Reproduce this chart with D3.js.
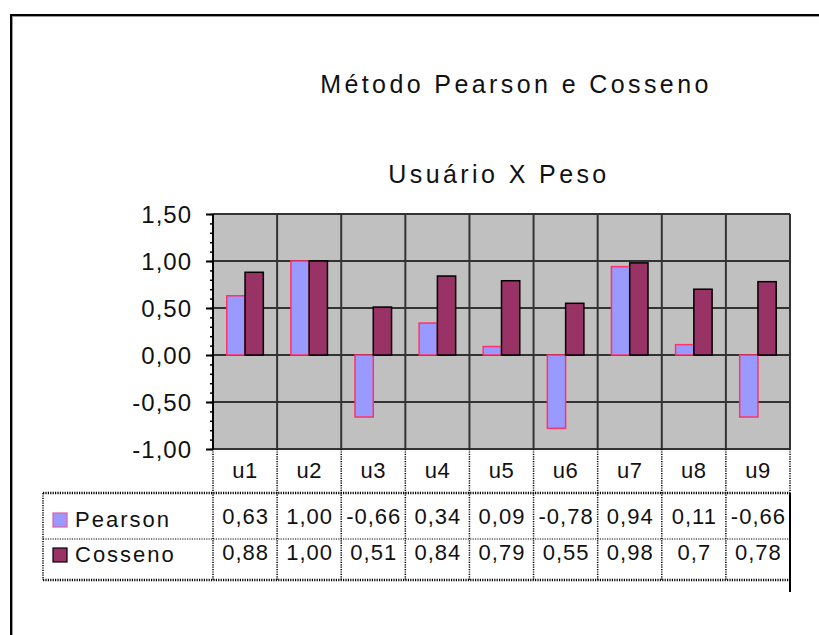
<!DOCTYPE html>
<html>
<head>
<meta charset="utf-8">
<script src="https://cdn.jsdelivr.net/npm/d3@7"></script>
<style>
  html, body { margin: 0; padding: 0; background: #fff; }
  svg { display: block; }
  text { font-family: "Liberation Sans", Arial, sans-serif; fill: #111; }
</style>
</head>
<body>
<svg id="chart" width="819" height="635"></svg>
<script>
// ---- data ----
const categories = ["u1", "u2", "u3", "u4", "u5", "u6", "u7", "u8", "u9"];
const seriesNames = ["Pearson", "Cosseno"];
const pearson = [0.63, 1.00, -0.66, 0.34, 0.09, -0.78, 0.94, 0.11, -0.66];
const cosseno = [0.88, 1.00, 0.51, 0.84, 0.79, 0.55, 0.98, 0.70, 0.78];
const pearsonLabels = ["0,63", "1,00", "-0,66", "0,34", "0,09", "-0,78", "0,94", "0,11", "-0,66"];
const cossenoLabels = ["0,88", "1,00", "0,51", "0,84", "0,79", "0,55", "0,98", "0,7", "0,78"];
const yTicks = [-1.0, -0.5, 0.0, 0.5, 1.0, 1.5];
const titleLines = ["Método Pearson e Cosseno", "Usuário X Peso"];

// ---- layout ----
const svg = d3.select("#chart");
const plot = { left: 213, right: 790, top: 214, bottom: 449 };
const table = { left: 43, row1: 493, row2: 539, bottom: 580 };
const colors = { Pearson: "#9999FF", Cosseno: "#993366" };
const strokes = { Pearson: "#FF3366", Cosseno: "#000000" };

// outer chart frame (extends past the window on right and bottom)
svg.append("rect").attr("x", 12).attr("y", 16).attr("width", 830).attr("height", 650)
  .attr("fill", "none").attr("stroke", "#999").attr("stroke-width", 2);
svg.append("rect").attr("x", 11).attr("y", 15).attr("width", 830).attr("height", 650)
  .attr("fill", "none").attr("stroke", "#000").attr("stroke-width", 2);

// title
svg.append("text").attr("x", 516).attr("y", 93).attr("text-anchor", "middle")
  .style("font-size", "25px").style("letter-spacing", "3.4px").text(titleLines[0]);
svg.append("text").attr("x", 499).attr("y", 183).attr("text-anchor", "middle")
  .style("font-size", "25px").style("letter-spacing", "3.4px").text(titleLines[1]);

// scales
const x = d3.scaleBand().domain(categories).range([plot.left, plot.right]).padding(0);
const y = d3.scaleLinear().domain([-1, 1.5]).range([plot.bottom, plot.top]);
const bw = x.bandwidth();
const x1 = d3.scaleBand().domain(seriesNames).range([bw * 0.215, bw * 0.785]).padding(0);

// plot background
svg.append("rect").attr("x", plot.left).attr("y", plot.top)
  .attr("width", plot.right - plot.left).attr("height", plot.bottom - plot.top)
  .attr("fill", "#C0C0C0");

// gridlines
const grid = svg.append("g").attr("stroke", "#333").attr("stroke-width", 2);
grid.selectAll("line.h").data(yTicks).join("line")
  .attr("x1", plot.left).attr("x2", plot.right)
  .attr("y1", d => y(d)).attr("y2", d => y(d));
grid.selectAll("line.v").data(categories.slice(1).concat(["end"])).join("line")
  .attr("x1", d => d === "end" ? plot.right : x(d)).attr("x2", d => d === "end" ? plot.right : x(d))
  .attr("y1", plot.top).attr("y2", plot.bottom);

// bars
const rows = categories.map((c, i) => ({ c, Pearson: pearson[i], Cosseno: cosseno[i] }));
const gBars = svg.append("g");
rows.forEach(r => {
  seriesNames.forEach(s => {
    const v = r[s];
    gBars.append("rect")
      .attr("x", x(r.c) + x1(s))
      .attr("y", Math.min(y(v), y(0)))
      .attr("width", x1.bandwidth())
      .attr("height", Math.abs(y(v) - y(0)))
      .attr("fill", colors[s])
      .attr("stroke", strokes[s]).attr("stroke-width", 1.5);
  });
});

// y axis with major and minor ticks
const fmt = d => d3.format(".2f")(d).replace(".", ",").replace("−", "-");
const minorTicks = d3.range(-10, 16).map(d => d / 10);
const minorAxis = svg.append("g").attr("transform", `translate(${plot.left},0)`)
  .call(d3.axisLeft(y).tickValues(minorTicks).tickSize(3).tickFormat(""));
minorAxis.select(".domain").remove();
minorAxis.selectAll("line").attr("stroke", "#000").attr("stroke-width", 1.5);
const yAxis = svg.append("g").attr("transform", `translate(${plot.left},0)`)
  .call(d3.axisLeft(y).tickValues(yTicks).tickSize(7).tickPadding(14).tickFormat(fmt));
yAxis.select(".domain").attr("stroke", "#000").attr("stroke-width", 2).attr("d", `M0,${plot.top}V${plot.bottom}`);
yAxis.selectAll("line").attr("stroke", "#000").attr("stroke-width", 2);
yAxis.selectAll("text").style("font-size", "24px").style("letter-spacing", "1px")
  .attr("dy", "0.36em").attr("fill", "#111");

// ---- data table ----
const tbl = svg.append("g");
const dotted = (sel, w) => sel.attr("stroke", "#000").attr("stroke-width", w).attr("stroke-dasharray", "1.2,1.2");
// horizontal lines
dotted(tbl.append("line").attr("x1", table.left).attr("x2", plot.right).attr("y1", table.row1).attr("y2", table.row1), 2.5);
dotted(tbl.append("line").attr("x1", table.left).attr("x2", plot.right).attr("y1", table.row2).attr("y2", table.row2), 1.2);
dotted(tbl.append("line").attr("x1", table.left).attr("x2", plot.right).attr("y1", table.bottom).attr("y2", table.bottom), 2.5);
// vertical lines
dotted(tbl.append("line").attr("x1", table.left).attr("x2", table.left).attr("y1", table.row1).attr("y2", table.bottom), 1.5);
tbl.selectAll("line.cv").data(categories).join("line").attr("class", "cv")
  .attr("x1", d => x(d)).attr("x2", d => x(d)).attr("y1", plot.bottom).attr("y2", table.bottom)
  .call(s => dotted(s, 1.5));
dotted(tbl.append("line").attr("x1", plot.right).attr("x2", plot.right).attr("y1", plot.bottom).attr("y2", table.row1), 1.5);
tbl.append("line").attr("x1", plot.right).attr("x2", plot.right).attr("y1", table.row1).attr("y2", 592)
  .attr("stroke", "#000").attr("stroke-width", 2);

// category labels
tbl.selectAll("text.cat").data(categories).join("text").attr("class", "cat")
  .attr("x", d => x(d) + bw / 2).attr("y", 478).attr("text-anchor", "middle")
  .style("font-size", "22px").style("letter-spacing", "0.5px").text(d => d);
// values
tbl.selectAll("text.pv").data(pearsonLabels).join("text").attr("class", "pv")
  .attr("x", (d, i) => x(categories[i]) + bw / 2 + 0.5).attr("y", 524).attr("text-anchor", "middle")
  .style("font-size", "22px").style("letter-spacing", "1px").text(d => d);
tbl.selectAll("text.cvv").data(cossenoLabels).join("text").attr("class", "cvv")
  .attr("x", (d, i) => x(categories[i]) + bw / 2 + 0.5).attr("y", 560).attr("text-anchor", "middle")
  .style("font-size", "22px").style("letter-spacing", "1px").text(d => d);

// legend keys
const legendY = { Pearson: [513, 527], Cosseno: [548, 562] };
seriesNames.forEach(s => {
  tbl.append("rect").attr("x", 53).attr("y", legendY[s][0]).attr("width", 14).attr("height", 14)
    .attr("fill", colors[s]).attr("stroke", s === "Pearson" ? "#E060A0" : "#000").attr("stroke-width", 1.2);
  tbl.append("text").attr("x", 75).attr("y", legendY[s][1]).style("font-size", "22px")
    .style("letter-spacing", "2px").text(s);
});
</script>
</body>
</html>
